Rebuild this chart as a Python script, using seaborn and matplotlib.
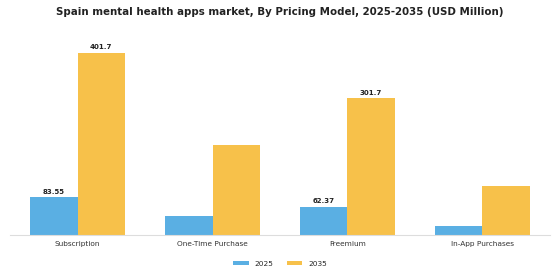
import pandas as pd
import numpy as np
import matplotlib.pyplot as plt
import seaborn as sns

categories = ['Subscription', 'One-Time Purchase', 'Freemium', 'In-App Purchases']
years = ['2025', '2035']
values_2025 = [83.55, 41.5, 62.37, 20.0]
values_2035 = [401.7, 200.0, 301.7, 109.5]
shown_labels = {('Subscription', '2025'): '83.55', ('Subscription', '2035'): '401.7',
                ('Freemium', '2025'): '62.37', ('Freemium', '2035'): '301.7'}

df = pd.DataFrame({
    'category': categories * 2,
    'year': [years[0]] * 4 + [years[1]] * 4,
    'value': values_2025 + values_2035,
})

sns.set_style('white')
plt.rcParams['font.family'] = ['DejaVu Sans']

fig = plt.figure(figsize=(5.6, 2.8), dpi=100)
ax = fig.add_axes([0.018, 0.16, 0.964, 0.68])

palette = {'2025': '#5aafe3', '2035': '#f7c14a'}
sns.barplot(data=df, x='category', y='value', hue='year', palette=palette,
            width=0.7, saturation=1, linewidth=0, ax=ax, legend=True)

for cont, yr in zip(ax.containers, years):
    for bar, cat in zip(cont, categories):
        lab = shown_labels.get((cat, yr))
        if lab:
            ax.text(bar.get_x() + bar.get_width() / 2, bar.get_height() + 6, lab,
                    ha='center', va='bottom', fontsize=5, fontweight='bold', color='#222222')

ax.set_xlim(-0.5, 3.5)
ax.set_ylim(0, 420)
ax.set_xlabel('')
ax.set_ylabel('')
ax.set_yticks([])
ax.tick_params(axis='x', labelsize=5.3, colors='#333333', length=0, pad=4)
for s in ['top', 'right', 'left']:
    ax.spines[s].set_visible(False)
ax.spines['bottom'].set_color('#dddddd')
ax.spines['bottom'].set_linewidth(0.8)

ax.legend(loc='upper center', bbox_to_anchor=(0.5, -0.1), ncol=2, frameon=False,
          fontsize=5.3, handlelength=2.1, handleheight=0.5, columnspacing=1.8)

fig.suptitle('Spain mental health apps market, By Pricing Model, 2025-2035 (USD Million)',
             fontsize=7.4, fontweight='bold', color='#222222', y=0.975)

fig.savefig('out.png', dpi=100, facecolor='white')
